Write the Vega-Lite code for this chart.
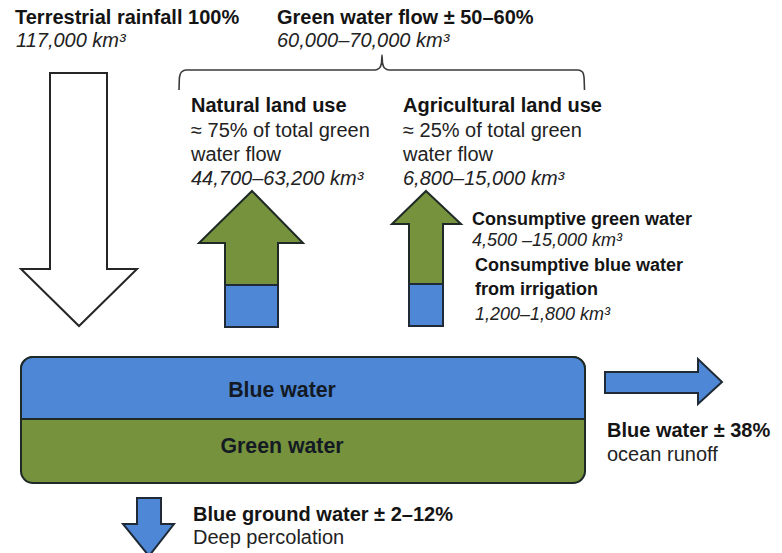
{
  "$schema": "https://vega.github.io/schema/vega-lite/v6.json",
  "width": 782,
  "height": 553,
  "padding": 0,
  "autosize": {"type": "fit", "contains": "padding"},
  "background": "white",
  "config": {"view": {"stroke": null}, "font": "Liberation Sans"},
  "datasets": {
    "polys": [
      {"shape": "rain", "kind": "white", "i": 1, "x": 50, "y": 73},
      {"shape": "rain", "kind": "white", "i": 2, "x": 107, "y": 73},
      {"shape": "rain", "kind": "white", "i": 3, "x": 107, "y": 269},
      {"shape": "rain", "kind": "white", "i": 4, "x": 137, "y": 269},
      {"shape": "rain", "kind": "white", "i": 5, "x": 79, "y": 326},
      {"shape": "rain", "kind": "white", "i": 6, "x": 21, "y": 269},
      {"shape": "rain", "kind": "white", "i": 7, "x": 50, "y": 269},
      {"shape": "natural", "kind": "green", "i": 1, "x": 252, "y": 191},
      {"shape": "natural", "kind": "green", "i": 2, "x": 303, "y": 243},
      {"shape": "natural", "kind": "green", "i": 3, "x": 278, "y": 243},
      {"shape": "natural", "kind": "green", "i": 4, "x": 278, "y": 327},
      {"shape": "natural", "kind": "green", "i": 5, "x": 225, "y": 327},
      {"shape": "natural", "kind": "green", "i": 6, "x": 225, "y": 243},
      {"shape": "natural", "kind": "green", "i": 7, "x": 199, "y": 243},
      {"shape": "agri", "kind": "green", "i": 1, "x": 426, "y": 191},
      {"shape": "agri", "kind": "green", "i": 2, "x": 461, "y": 224},
      {"shape": "agri", "kind": "green", "i": 3, "x": 443, "y": 224},
      {"shape": "agri", "kind": "green", "i": 4, "x": 443, "y": 326},
      {"shape": "agri", "kind": "green", "i": 5, "x": 409, "y": 326},
      {"shape": "agri", "kind": "green", "i": 6, "x": 409, "y": 224},
      {"shape": "agri", "kind": "green", "i": 7, "x": 392, "y": 224},
      {"shape": "runoff", "kind": "blue", "i": 1, "x": 605, "y": 372},
      {"shape": "runoff", "kind": "blue", "i": 2, "x": 698, "y": 372},
      {"shape": "runoff", "kind": "blue", "i": 3, "x": 698, "y": 359},
      {"shape": "runoff", "kind": "blue", "i": 4, "x": 722, "y": 382},
      {"shape": "runoff", "kind": "blue", "i": 5, "x": 698, "y": 404},
      {"shape": "runoff", "kind": "blue", "i": 6, "x": 698, "y": 393},
      {"shape": "runoff", "kind": "blue", "i": 7, "x": 605, "y": 393},
      {"shape": "ground", "kind": "blue", "i": 1, "x": 137, "y": 498},
      {"shape": "ground", "kind": "blue", "i": 2, "x": 161, "y": 498},
      {"shape": "ground", "kind": "blue", "i": 3, "x": 161, "y": 524},
      {"shape": "ground", "kind": "blue", "i": 4, "x": 174, "y": 524},
      {"shape": "ground", "kind": "blue", "i": 5, "x": 149, "y": 556},
      {"shape": "ground", "kind": "blue", "i": 6, "x": 123, "y": 524},
      {"shape": "ground", "kind": "blue", "i": 7, "x": 137, "y": 524}
    ],
    "rects": [
      {"name": "natural_blue", "kind": "blue", "x": 225, "x2": 278, "y": 285, "y2": 327},
      {"name": "agri_blue", "kind": "blue", "x": 409, "x2": 443, "y": 284, "y2": 326}
    ],
    "store": [
      {"name": "whole", "kind": "green", "x": 21, "x2": 585, "y": 357, "y2": 483},
      {"name": "top", "kind": "blue", "x": 21, "x2": 585, "y": 357, "y2": 419}
    ],
    "brace": [
      {"i": 1, "x": 179, "y": 90},
      {"i": 2, "x": 179.5, "y": 77},
      {"i": 3, "x": 181.5, "y": 72},
      {"i": 4, "x": 186, "y": 70},
      {"i": 5, "x": 375, "y": 70},
      {"i": 6, "x": 379.5, "y": 68},
      {"i": 7, "x": 381.5, "y": 63},
      {"i": 8, "x": 382, "y": 55},
      {"i": 9, "x": 382.5, "y": 63},
      {"i": 10, "x": 384.5, "y": 68},
      {"i": 11, "x": 389, "y": 70},
      {"i": 12, "x": 578, "y": 70},
      {"i": 13, "x": 582.5, "y": 72},
      {"i": 14, "x": 584, "y": 77},
      {"i": 15, "x": 584.5, "y": 90}
    ],
    "labels": [
      {"text": "Terrestrial rainfall 100%", "x": 15, "y": 24, "style": "bold"},
      {"text": "117,000 km³", "x": 16, "y": 47, "style": "italic"},
      {"text": "Green water flow ± 50–60%", "x": 277, "y": 24, "style": "bold"},
      {"text": "60,000–70,000 km³", "x": 277, "y": 47, "style": "italic"},
      {"text": "Natural land use", "x": 191, "y": 112, "style": "bold"},
      {"text": "≈ 75% of total green", "x": 191, "y": 137, "style": "regular"},
      {"text": "water flow", "x": 191, "y": 161, "style": "regular"},
      {"text": "44,700–63,200 km³", "x": 191, "y": 185, "style": "italic"},
      {"text": "Agricultural land use", "x": 403, "y": 112, "style": "bold"},
      {"text": "≈ 25% of total green", "x": 403, "y": 137, "style": "regular"},
      {"text": "water flow", "x": 403, "y": 161, "style": "regular"},
      {"text": "6,800–15,000 km³", "x": 403, "y": 185, "style": "italic"},
      {"text": "Consumptive green water", "x": 472, "y": 225, "style": "smallbold"},
      {"text": "4,500 –15,000 km³", "x": 472, "y": 246, "style": "smallitalic"},
      {"text": "Consumptive blue water", "x": 475, "y": 271, "style": "smallbold"},
      {"text": "from irrigation", "x": 475, "y": 295, "style": "smallbold"},
      {"text": "1,200–1,800 km³", "x": 475, "y": 320, "style": "smallitalic"},
      {"text": "Blue water", "x": 282, "y": 397, "style": "center"},
      {"text": "Green water", "x": 282, "y": 453, "style": "center"},
      {"text": "Blue water ± 38%", "x": 607, "y": 437, "style": "bold"},
      {"text": "ocean runoff", "x": 607, "y": 461, "style": "regular"},
      {"text": "Blue ground water ± 2–12%", "x": 193, "y": 521, "style": "bold"},
      {"text": "Deep percolation", "x": 193, "y": 544, "style": "regular"}
    ]
  },
  "encoding": {
    "x": {"field": "x", "type": "quantitative", "scale": {"domain": [0, 782], "nice": false, "zero": false}, "axis": null},
    "y": {"field": "y", "type": "quantitative", "scale": {"domain": [0, 553], "nice": false, "zero": false, "reverse": true}, "axis": null}
  },
  "layer": [
    {
      "data": {"name": "polys"},
      "transform": [{"filter": "datum.kind === 'white'"}],
      "mark": {"type": "line", "interpolate": "linear-closed", "fill": "white", "stroke": "#262626", "strokeWidth": 2, "strokeJoin": "miter", "clip": true},
      "encoding": {"detail": {"field": "shape"}, "order": {"field": "i", "type": "quantitative"}}
    },
    {
      "data": {"name": "polys"},
      "transform": [{"filter": "datum.kind === 'green'"}],
      "mark": {"type": "line", "interpolate": "linear-closed", "fill": "#76923c", "stroke": "#1f2a26", "strokeWidth": 2, "strokeJoin": "miter", "clip": true},
      "encoding": {"detail": {"field": "shape"}, "order": {"field": "i", "type": "quantitative"}}
    },
    {
      "data": {"name": "polys"},
      "transform": [{"filter": "datum.kind === 'blue'"}],
      "mark": {"type": "line", "interpolate": "linear-closed", "fill": "#4d87d6", "stroke": "#1f2a36", "strokeWidth": 2, "strokeJoin": "miter", "clip": true},
      "encoding": {"detail": {"field": "shape"}, "order": {"field": "i", "type": "quantitative"}}
    },
    {
      "data": {"name": "rects"},
      "mark": {"type": "rect", "fill": "#4d87d6", "stroke": "#1f2a36", "strokeWidth": 2},
      "encoding": {"x2": {"field": "x2"}, "y2": {"field": "y2"}}
    },
    {
      "data": {"name": "store"},
      "transform": [{"filter": "datum.kind === 'green'"}],
      "mark": {"type": "rect", "fill": "#76923c", "stroke": "#1f2a26", "strokeWidth": 2, "cornerRadius": 12},
      "encoding": {"x2": {"field": "x2"}, "y2": {"field": "y2"}}
    },
    {
      "data": {"name": "store"},
      "transform": [{"filter": "datum.kind === 'blue'"}],
      "mark": {"type": "rect", "fill": "#4d87d6", "stroke": "#1f2a26", "strokeWidth": 2, "cornerRadiusTopLeft": 12, "cornerRadiusTopRight": 12},
      "encoding": {"x2": {"field": "x2"}, "y2": {"field": "y2"}}
    },
    {
      "data": {"name": "brace"},
      "mark": {"type": "line", "stroke": "#3a3a3a", "strokeWidth": 1.6, "interpolate": "monotone"},
      "encoding": {"order": {"field": "i", "type": "quantitative"}}
    },
    {
      "data": {"name": "labels"},
      "transform": [{"filter": "datum.style === 'bold'"}],
      "mark": {"type": "text", "align": "left", "baseline": "alphabetic", "fontSize": 20, "fontWeight": "bold", "color": "#141414"},
      "encoding": {"text": {"field": "text"}}
    },
    {
      "data": {"name": "labels"},
      "transform": [{"filter": "datum.style === 'regular'"}],
      "mark": {"type": "text", "align": "left", "baseline": "alphabetic", "fontSize": 20, "color": "#222222"},
      "encoding": {"text": {"field": "text"}}
    },
    {
      "data": {"name": "labels"},
      "transform": [{"filter": "datum.style === 'italic'"}],
      "mark": {"type": "text", "align": "left", "baseline": "alphabetic", "fontSize": 20, "fontStyle": "italic", "color": "#222222"},
      "encoding": {"text": {"field": "text"}}
    },
    {
      "data": {"name": "labels"},
      "transform": [{"filter": "datum.style === 'smallbold'"}],
      "mark": {"type": "text", "align": "left", "baseline": "alphabetic", "fontSize": 18, "fontWeight": "bold", "color": "#141414"},
      "encoding": {"text": {"field": "text"}}
    },
    {
      "data": {"name": "labels"},
      "transform": [{"filter": "datum.style === 'smallitalic'"}],
      "mark": {"type": "text", "align": "left", "baseline": "alphabetic", "fontSize": 18, "fontStyle": "italic", "color": "#222222"},
      "encoding": {"text": {"field": "text"}}
    },
    {
      "data": {"name": "labels"},
      "transform": [{"filter": "datum.style === 'center'"}],
      "mark": {"type": "text", "align": "center", "baseline": "alphabetic", "fontSize": 21.3, "fontWeight": "bold", "color": "#141a24"},
      "encoding": {"text": {"field": "text"}}
    }
  ]
}
